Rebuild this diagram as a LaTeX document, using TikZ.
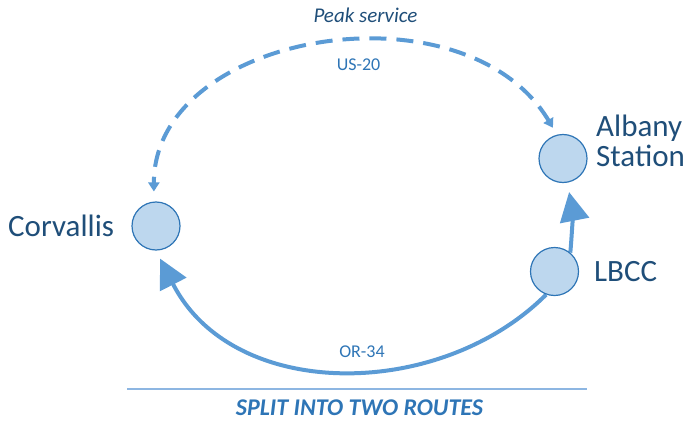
\documentclass[tikz,border=0pt]{standalone}
\usepackage{fontspec}
\setmainfont{Carlito}
\usetikzlibrary{arrows.meta}
\definecolor{txtdark}{HTML}{1F4E79}
\definecolor{txtmid}{HTML}{2E75B6}
\definecolor{routeblue}{HTML}{5B9BD5}
\definecolor{stnfill}{HTML}{BDD7EE}
\definecolor{stnedge}{HTML}{2E75B6}
\definecolor{rulecol}{HTML}{8DB6E2}
\pgfdeclarelayer{bg}
\pgfsetlayers{bg,main}
\begin{document}
\begin{tikzpicture}[x=1pt,y=1pt,
  stn/.style={circle,minimum size=48pt,inner sep=0pt,fill=stnfill,draw=stnedge,line width=1.2pt},
  lbl/.style={text=txtdark,font=\fontsize{31}{37}\selectfont,inner sep=0pt,anchor=base west},
  smalllbl/.style={text=txtmid,font=\fontsize{18}{22}\selectfont,inner sep=0pt,anchor=base},
  peaklbl/.style={text=txtdark,font=\fontsize{21}{25}\selectfont\itshape,inner sep=0pt,anchor=base},
  caplbl/.style={text=txtmid,font=\fontsize{24}{28}\selectfont\bfseries\itshape,inner sep=0pt,anchor=base},
  route/.style={draw=routeblue,line width=4pt},
  bigtip/.style={-{Triangle[length=29pt,width=29pt]}},
  dashroute/.style={dash pattern=on 17pt off 10pt,
    {Triangle[length=9pt,width=11pt]}-{Triangle[length=9pt,width=11pt]}},
  rule/.style={draw=rulecol,line width=1.3pt}
]
\useasboundingbox (0,0) rectangle (684,421);
% stations
\node[stn] (corv) at (156,195) {};
\node[stn] (alb) at (563,262.5) {};
\node[stn] (lbcc) at (554.5,149.5) {};
% station labels
\node[lbl] (corvl) at (8,185) {Corvallis};
\node[lbl] (albl) at (596,284) {Albany};
\node[lbl] (stal) at (596,255) {Station};
\node[lbl] (lbccl) at (594,140) {LBCC};
% route labels
\node[peaklbl] (peak) at (365.5,398) {Peak service};
\node[smalllbl] (us) at (358.5,350) {US-20};
\node[smalllbl] (or) at (362,64) {OR-34};
% caption
\coordinate (r1) at (127,32);
\coordinate (r2) at (587,32);
\draw[rule] (r1) -- (r2);
\node[caplbl] (cap) at (359.5,6) {SPLIT INTO TWO ROUTES};
% connectors
\begin{pgfonlayer}{bg}
\draw[route,bigtip,shorten >=9pt] (lbcc.-110) to[out=-135,in=-63,out distance=150,in distance=170] (corv.south);
\draw[route,bigtip,shorten >=9.5pt] (lbcc.50) to[out=85,in=-79] (alb.-80);
\draw[route,dashroute,shorten <=8pt,shorten >=10pt] (alb.104) to[out=121,in=90,out distance=180,in distance=170] (corv.95);
\end{pgfonlayer}
\end{tikzpicture}
\end{document}
